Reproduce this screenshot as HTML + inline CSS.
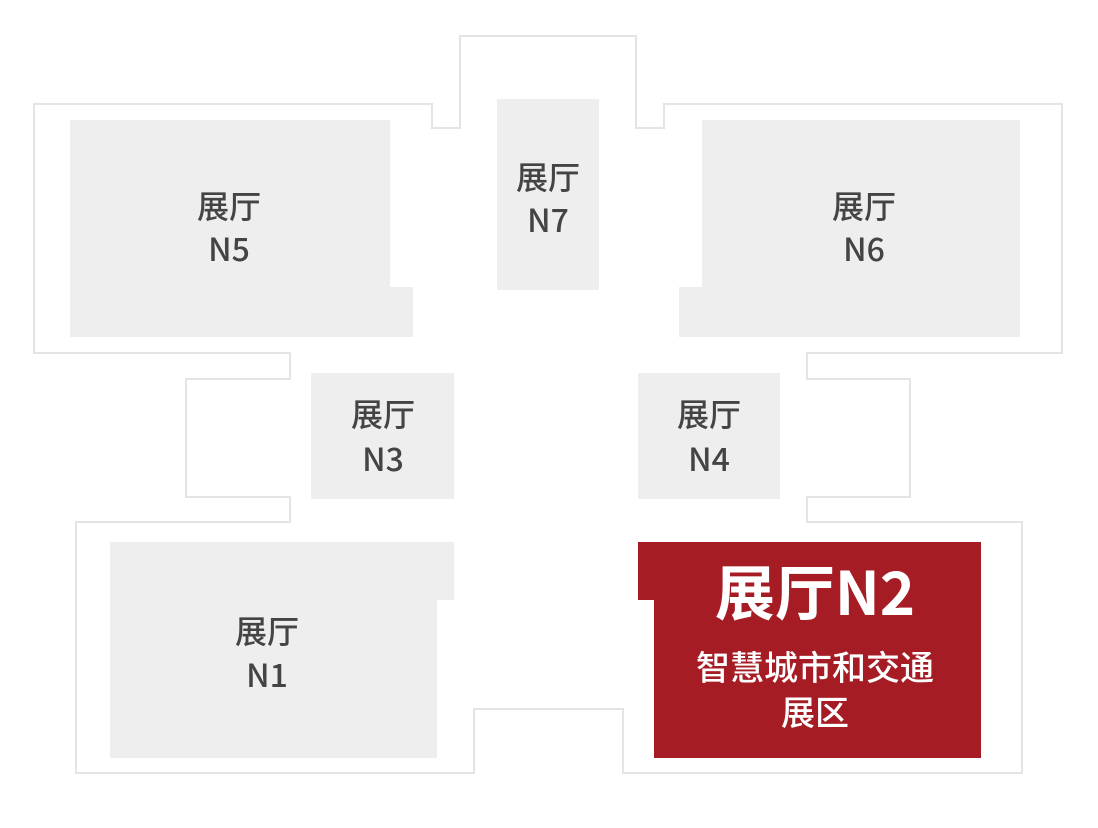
<!DOCTYPE html>
<html><head><meta charset="utf-8"><style>
body{margin:0;background:#fff;}
svg text{font-family:"Noto Sans CJK SC","Liberation Sans",sans-serif;}
</style></head><body>
<svg width="1098" height="823" viewBox="0 0 1098 823" xmlns="http://www.w3.org/2000/svg">
<rect width="1098" height="823" fill="#fff"/>
<polygon fill="none" stroke="#e4e4e4" stroke-width="2" points="34,104 432,104 432,128 460,128 460,36 636,36 636,128 664,128 664,104 1062,104 1062,353 807,353 807,379 910,379 910,497 807,497 807,522 1022,522 1022,773 623,773 623,709 474,709 474,773 76,773 76,522 290,522 290,497 186,497 186,379 290,379 290,353 34,353"/>
<g fill="#eeeeee">
<polygon points="70,120 390,120 390,287 413,287 413,337 70,337"/>
<rect x="497" y="99" width="102" height="191"/>
<polygon points="702,120 1020,120 1020,337 679,337 679,287 702,287"/>
<rect x="311" y="373" width="143" height="126"/>
<rect x="638" y="373" width="142" height="126"/>
<polygon points="110,542 454,542 454,600 437,600 437,758 110,758"/>
</g>
<polygon fill="#a51c24" points="638,542 981,542 981,758 654,758 654,600 638,600"/>
<g fill="#444" font-size="32" font-weight="500" text-anchor="middle">
<text x="229" y="218">展厅</text><text x="229" y="261">N5</text>
<text x="548" y="189">展厅</text><text x="548" y="232">N7</text>
<text x="864" y="218">展厅</text><text x="864" y="261">N6</text>
<text x="383" y="426">展厅</text><text x="383" y="471">N3</text>
<text x="709" y="426">展厅</text><text x="709" y="471">N4</text>
<text x="267" y="643">展厅</text><text x="267" y="687">N1</text>
</g>
<g fill="#fff" text-anchor="middle">
<text x="815" y="615" font-size="60" font-weight="bold">展厅N2</text>
<text x="815" y="680" font-size="34" font-weight="500">智慧城市和交通</text>
<text x="815" y="725" font-size="34" font-weight="500">展区</text>
</g>
</svg>
</body></html>
